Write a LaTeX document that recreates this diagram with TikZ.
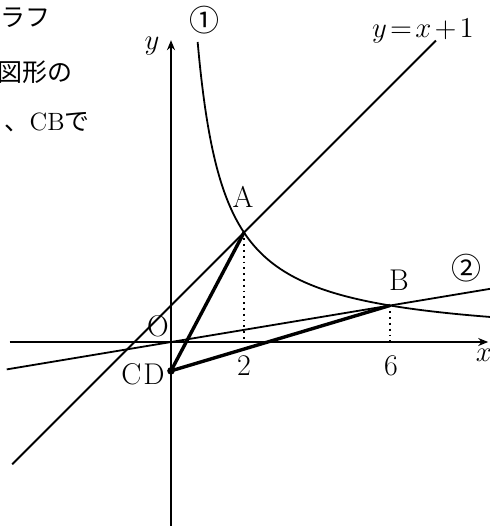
\documentclass[tikz,border=0pt]{standalone}
\usepackage{fontspec}
\newfontfamily\cjk{Noto Sans CJK JP}
\usetikzlibrary{arrows.meta}
\begin{document}
\begin{tikzpicture}[x=0.5pt,y=-0.5pt,
  thinline/.style={line width=0.9pt},
  thickline/.style={line width=1.7pt},
  dotline/.style={line width=0.9pt, dotted},
  lbl/.style={font=\fontsize{15}{17}\selectfont, inner sep=0pt},
  jp/.style={font=\fontsize{12.5}{15}\selectfont, inner sep=0pt},
  circnum/.style={font=\cjk\fontsize{15}{17}\selectfont, inner sep=0pt},
  axisarrow/.style={thinline, -{Stealth[length=5pt,width=4pt]}}]
\useasboundingbox (0,0) rectangle (490,526);
\clip (0,0) rectangle (490,526);
% text at the left edge
\node[jp, anchor=west] (t1) at (0,18) {\cjk ラフ};
\node[jp, anchor=east] (t2) at (73,72) {\cjk 図形の};
\node[jp, anchor=east] (t3) at (90,122) {{\cjk 、}CB{\cjk で}};
\begin{scope}[shift={(171,342)}, x=18.25pt, y=18.25pt]
  \coordinate (O) at (0,0);
  \coordinate (xs) at (-4.42,0);
  \coordinate (xe) at (8.69,0);
  \coordinate (ys) at (0,-5.2);
  \coordinate (ye) at (0,8.27);
  \coordinate (A) at (2,3);
  \coordinate (B) at (6,1);
  \coordinate (D) at (0,-0.79);
  \coordinate (A0) at (2,0);
  \coordinate (B0) at (6,0);
  \coordinate (L1s) at (-4.35,-3.35);
  \coordinate (L1e) at (7.26,8.26);
  \coordinate (L2s) at (-4.5,-0.75);
  \coordinate (L2e) at (8.9,1.4833);
  % axes
  \draw[axisarrow] (xs) -- (xe);
  \draw[axisarrow] (ys) -- (ye);
  % y = x + 1
  \draw[thinline] (L1s) -- (L1e);
  % line 2 : y = x/6
  \draw[thinline] (L2s) -- (L2e);
  % hyperbola 1 : y = 6/x
  \draw[thinline, domain=0.73:8.9, samples=200, smooth] plot (\x, {6/\x});
  % dotted guides
  \draw[dotline] (A) -- (A0);
  \draw[dotline] (B) -- (B0);
  % triangle sides
  \draw[thickline] (D) -- (A);
  \draw[thickline] (D) -- (B);
  \fill (D) circle (1.9pt);
\end{scope}
% labels (pixel coordinates)
\node[lbl] (ylab) at (152,46) {$y$};
\node[lbl] (xlab) at (484,355) {$x$};
\node[circnum] (c1) at (205,20) {①};
\node[circnum] (c2) at (466,268) {②};
\node[lbl] (eq) at (423,31) {$y\mkern2mu{=}\mkern2mu x\mkern2mu{+}\mkern2mu 1$};
\node[lbl] (Alab) at (243,197) {A};
\node[lbl] (Blab) at (399,280) {B};
\node[lbl] (Olab) at (158,326) {O};
\node[lbl] (CDlab) at (143,374) {C\kern1pt D};
\node[lbl] (two) at (244,366) {2};
\node[lbl] (six) at (391,366) {6};
\end{tikzpicture}
\end{document}
